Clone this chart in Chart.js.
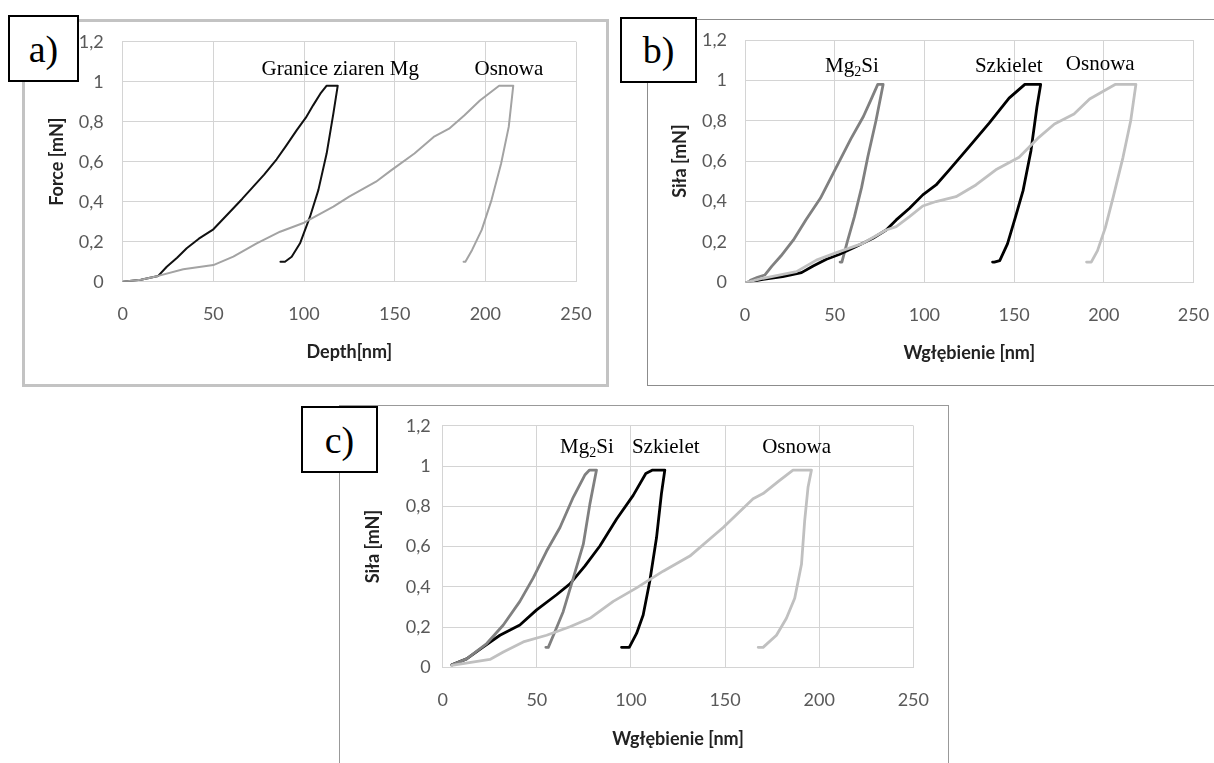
<!DOCTYPE html>
<html>
<head>
<meta charset="utf-8">
<script src="https://cdn.jsdelivr.net/npm/chart.js@4.4.1/dist/chart.umd.min.js"></script>
<style>
  body { margin: 0; background: #fff; width: 1214px; height: 763px; overflow: hidden; position: relative; }
  .panel { position: absolute; box-sizing: border-box; background: #fff; }
  canvas { position: absolute; }
  .tag { position: absolute; box-sizing: border-box; border: 2px solid #000; background: #fff;
         font-family: "Liberation Serif", serif; font-size: 38px; color: #000;
         display: flex; align-items: center; justify-content: center; }
</style>
</head>
<body>
<div class="panel" style="left:22px;top:19px;width:587px;height:368px;border:3px solid #c3c3c3;"></div>
<div class="panel" style="left:647px;top:19px;width:600px;height:367px;border:1px solid #8c8c8c;"></div>
<div class="panel" style="left:339px;top:405px;width:610px;height:400px;border:1px solid #999;"></div>

<canvas id="chartA" width="580" height="361" style="left:25px;top:22px;"></canvas>
<canvas id="chartB" width="566" height="365" style="left:648px;top:20px;"></canvas>
<canvas id="chartC" width="608" height="357" style="left:340px;top:406px;"></canvas>

<div class="tag" style="left:8px;top:15px;width:71px;height:67px;">a)</div>
<div class="tag" style="left:620px;top:17px;width:77px;height:66px;">b)</div>
<div class="tag" style="left:301px;top:406px;width:77px;height:67px;">c)</div>

<script>
// osie
const xTickLabels = ['0', '50', '100', '150', '200', '250'];
const yTickLabels = ['0', '0,2', '0,4', '0,6', '0,8', '1', '1,2'];

// a) Granice ziaren Mg / Osnowa
const aGranX = [0, 10, 19.6, 24.3, 30, 35.3, 42, 50, 59.2, 66, 72, 78, 84.9, 90, 96, 101, 105.1, 109, 112.5, 118.6, 116.2, 112.5, 107.9, 103.3, 97.8, 93.2, 89.5, 87];
const aGranY = [0, 0.01, 0.029, 0.075, 0.12, 0.167, 0.215, 0.262, 0.35, 0.415, 0.475, 0.535, 0.612, 0.678, 0.758, 0.82, 0.883, 0.94, 0.98, 0.98, 0.842, 0.642, 0.458, 0.325, 0.192, 0.125, 0.1, 0.1];
const aOsnX = [0, 10, 19.6, 33.4, 50, 61, 73.9, 86.8, 100, 116.2, 124.9, 139.7, 148.2, 160.9, 171.5, 180, 188.5, 197, 207.6, 215.4, 212.9, 208.7, 203.4, 198, 192.7, 189, 188];
const aOsnY = [0, 0.01, 0.029, 0.062, 0.083, 0.125, 0.192, 0.25, 0.295, 0.375, 0.425, 0.5, 0.558, 0.641, 0.724, 0.765, 0.832, 0.906, 0.98, 0.98, 0.774, 0.591, 0.408, 0.259, 0.159, 0.1, 0.1];

// b) Mg2Si / Szkielet / Osnowa
const bMgX = [3, 7, 11, 15, 20, 27, 34, 42, 48, 53, 59, 66, 70, 74, 77, 73, 68.5, 65, 61, 57, 54, 53];
const bMgY = [0.01, 0.025, 0.036, 0.08, 0.13, 0.21, 0.31, 0.416, 0.52, 0.606, 0.71, 0.821, 0.9, 0.98, 0.98, 0.8, 0.623, 0.47, 0.325, 0.2, 0.1, 0.1];
const bSzkX = [1, 10, 21, 31.5, 38, 45.4, 52.8, 62, 71.3, 78.7, 84.3, 91.7, 99.1, 106.5, 113.9, 125, 136.1, 147.2, 156, 164.8, 162.7, 159.4, 155, 150.7, 146.3, 142, 139, 138];
const bSzkY = [0, 0.015, 0.028, 0.048, 0.081, 0.114, 0.139, 0.177, 0.218, 0.259, 0.309, 0.367, 0.433, 0.482, 0.557, 0.672, 0.788, 0.912, 0.98, 0.98, 0.867, 0.652, 0.454, 0.322, 0.19, 0.107, 0.1, 0.1];
const bOsnX = [1, 10, 28.7, 39.8, 51, 65.7, 78.7, 84.3, 91.7, 99.1, 106.5, 117.6, 128.7, 139.8, 152.8, 163.8, 172.5, 183.4, 192.1, 206.3, 217.9, 215, 210.7, 205.2, 200.9, 196.5, 193, 190.4];
const bOsnY = [0, 0.02, 0.053, 0.11, 0.147, 0.193, 0.259, 0.276, 0.325, 0.378, 0.4, 0.424, 0.482, 0.557, 0.619, 0.718, 0.784, 0.834, 0.908, 0.98, 0.98, 0.8, 0.619, 0.421, 0.272, 0.157, 0.1, 0.1];

// c) Mg2Si / Szkielet / Osnowa
const cMgX = [5, 12.7, 23.4, 32.2, 41, 48.1, 55.2, 62.3, 69.4, 75.5, 78, 81.7, 78.2, 74.7, 69.4, 64, 59.6, 56.1, 54.8];
const cMgY = [0.013, 0.043, 0.119, 0.211, 0.328, 0.445, 0.578, 0.695, 0.846, 0.955, 0.98, 0.98, 0.812, 0.612, 0.445, 0.277, 0.177, 0.1, 0.1];
const cSzkX = [4.8, 12.7, 21.6, 30.4, 41, 49.9, 60.5, 67.6, 75.5, 83.5, 92.4, 101.2, 107.9, 111.5, 118, 116.2, 113.6, 110, 106.5, 103, 99.1, 95];
const cSzkY = [0.013, 0.043, 0.102, 0.16, 0.211, 0.286, 0.361, 0.415, 0.503, 0.603, 0.737, 0.854, 0.963, 0.98, 0.98, 0.863, 0.645, 0.428, 0.261, 0.169, 0.1, 0.1];
const cOsnX = [4.8, 25.1, 32.2, 42.8, 55.2, 67.6, 78.2, 90.6, 103, 117.1, 131.3, 149, 164.9, 170.2, 179, 186.1, 195.9, 194.1, 192.3, 190.6, 187, 182.6, 177.3, 170.2, 167.6];
const cOsnY = [0.01, 0.04, 0.077, 0.127, 0.16, 0.202, 0.244, 0.328, 0.395, 0.478, 0.553, 0.695, 0.838, 0.863, 0.929, 0.98, 0.98, 0.896, 0.729, 0.512, 0.344, 0.244, 0.16, 0.1, 0.1];

const gridColor = '#d4d4d4';
const tickColor = '#595959';
const tickFont = { family: 'Lato', size: 18 };
const titleFont = { family: 'Lato', size: 18, weight: 'bold' };

function zip(xs, ys) {
    return xs.map((x, i) => ({ x: x, y: ys[i] }));
}

// podpisy krzywych (czcionka szeryfowa, z indeksem dolnym)
function notesPlugin(notes) {
    return {
        id: 'notes',
        afterDatasetsDraw(chart) {
            const ctx = chart.ctx;
            ctx.save();
            ctx.fillStyle = '#000';
            ctx.textBaseline = 'alphabetic';
            ctx.textAlign = 'left';
            notes.forEach(n => {
                const px = chart.scales.x.getPixelForValue(n.x);
                const py = chart.scales.y.getPixelForValue(n.y);
                let total = 0;
                const widths = n.parts.map(p => {
                    ctx.font = (p.sub ? 14 : 21) + 'px "Liberation Serif"';
                    const w = ctx.measureText(p.t).width;
                    total += w;
                    return w;
                });
                let cx = px - total / 2;
                n.parts.forEach((p, i) => {
                    ctx.font = (p.sub ? 14 : 21) + 'px "Liberation Serif"';
                    ctx.fillText(p.t, cx, py + 7 + (p.sub ? 4 : 0));
                    cx += widths[i];
                });
            });
            ctx.restore();
        }
    };
}

function makeChart(id, cfg) {
    const ctx = document.getElementById(id).getContext('2d');
    return new Chart(ctx, {
        type: 'scatter',
        data: {
            datasets: cfg.series.map(s => ({
                label: s.name,
                data: zip(s.x, s.y),
                showLine: true,
                borderColor: s.color,
                backgroundColor: s.color,
                borderWidth: s.width,
                pointRadius: 0,
                pointHoverRadius: 0,
                tension: 0,
                fill: false,
                borderJoinStyle: 'round',
                borderCapStyle: 'round'
            }))
        },
        options: {
            responsive: false,
            animation: false,
            devicePixelRatio: 1,
            layout: { padding: { left: 0, top: cfg.padTop, right: cfg.padRight, bottom: 0 } },
            plugins: { legend: { display: false }, tooltip: { enabled: false } },
            scales: {
                x: {
                    type: 'linear', min: 0, max: 250,
                    ticks: { stepSize: 50, padding: 22, color: tickColor, font: tickFont, maxRotation: 0,
                             callback: (v, i) => xTickLabels[i] },
                    grid: { color: gridColor, drawTicks: false },
                    border: { color: gridColor },
                    title: { display: true, text: cfg.xTitle, color: '#222', font: titleFont,
                             padding: { top: 0, bottom: cfg.xTitlePad } },
                    afterFit: s => {
                        s.height = cfg.xAxisH;
                        s.paddingLeft = 0; s.paddingRight = 0;
                    }
                },
                y: {
                    type: 'linear', min: 0, max: 1.2,
                    ticks: { stepSize: 0.2, padding: cfg.yTickPad, color: tickColor, font: tickFont,
                             callback: (v, i) => yTickLabels[i] },
                    grid: { color: gridColor, drawTicks: false },
                    border: { color: gridColor },
                    title: { display: true, text: cfg.yTitle, color: '#222', font: titleFont,
                             padding: { top: cfg.yTitlePad, bottom: 0 } },
                    afterFit: s => {
                        s.width = cfg.yAxisW;
                        s.paddingTop = 0; s.paddingBottom = 0;
                    }
                }
            }
        },
        plugins: [notesPlugin(cfg.notes)]
    });
}

makeChart('chartA', {
    series: [
        { name: 'Osnowa', x: aOsnX, y: aOsnY, color: '#a3a3a3', width: 2 },
        { name: 'Granice ziaren Mg', x: aGranX, y: aGranY, color: '#111', width: 2 }
    ],
    notes: [
        { x: 120, y: 1.068, parts: [{ t: 'Granice ziaren Mg' }] },
        { x: 213, y: 1.068, parts: [{ t: 'Osnowa' }] }
    ],
    xTitle: 'Depth[nm]', yTitle: 'Force [mN]',
    padTop: 19.7, padRight: 29, yAxisW: 97.7, xAxisH: 101.3,
    yTickPad: 19, yTitlePad: 21, xTitlePad: 20
});

makeChart('chartB', {
    series: [
        { name: 'Osnowa', x: bOsnX, y: bOsnY, color: '#c0c0c0', width: 2.8 },
        { name: 'Szkielet', x: bSzkX, y: bSzkY, color: '#000', width: 2.8 },
        { name: 'Mg2Si', x: bMgX, y: bMgY, color: '#808080', width: 2.8 }
    ],
    notes: [
        { x: 59.6, y: 1.076, parts: [{ t: 'Mg' }, { t: '2', sub: true }, { t: 'Si' }] },
        { x: 147, y: 1.076, parts: [{ t: 'Szkielet' }] },
        { x: 198, y: 1.086, parts: [{ t: 'Osnowa' }] }
    ],
    xTitle: 'Wgłębienie [nm]', yTitle: 'Siła [mN]',
    padTop: 20, padRight: 20.5, yAxisW: 97, xAxisH: 102.7,
    yTickPad: 18, yTitlePad: 21, xTitlePad: 21
});

makeChart('chartC', {
    series: [
        { name: 'Osnowa', x: cOsnX, y: cOsnY, color: '#c0c0c0', width: 2.8 },
        { name: 'Mg2Si', x: cMgX, y: cMgY, color: '#808080', width: 2.8 },
        { name: 'Szkielet', x: cSzkX, y: cSzkY, color: '#000', width: 2.8 }
    ],
    notes: [
        { x: 76.6, y: 1.097, parts: [{ t: 'Mg' }, { t: '2', sub: true }, { t: 'Si' }] },
        { x: 118.5, y: 1.097, parts: [{ t: 'Szkielet' }] },
        { x: 188, y: 1.097, parts: [{ t: 'Osnowa' }] }
    ],
    xTitle: 'Wgłębienie [nm]', yTitle: 'Siła [mN]',
    padTop: 19.7, padRight: 34.7, yAxisW: 102.7, xAxisH: 95.5,
    yTickPad: 12, yTitlePad: 22.5, xTitlePad: 13
});
</script>
</body>
</html>
